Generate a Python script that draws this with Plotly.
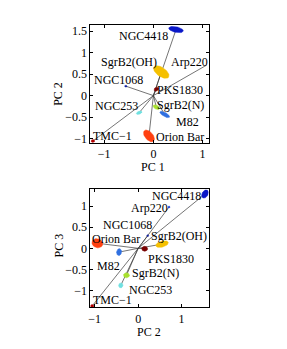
import numpy as np
import plotly.graph_objects as go

# ---- data ----
sources = ["NGC4418", "Arp220", "NGC1068", "SgrB2(OH)", "PKS1830",
           "SgrB2(N)", "M82", "NGC253", "Orion Bar", "TMC-1"]
pc1 = [0.46, 1.08, -0.56, 0.16, 0.06, 0.06, 0.23, -0.29, -0.09, -1.23]
pc2 = [1.54, 0.71, 0.22, 0.55, 0.15, -0.27, -0.44, -0.40, -0.94, -1.06]
pc3 = [1.29, 0.98, 0.30, 0.10, -0.01, -0.64, -0.09, -0.88, 0.12, -1.37]
colors = ["#0a18c8", "#1a3ad8", "#1020a0", "#f5c000", "#780000",
          "#a8e030", "#3070e0", "#70e0e0", "#ff4010", "#b00000"]

# uncertainty ellipse shapes (pixel semi-axes and angle) per panel
ell_top = [(7.5, 2.8, -12), (0, 0, 0), (1.2, 1.0, 0), (9, 4.5, -35), (2.5, 1.8, 30),
           (3.5, 2.0, -30), (5.5, 2.0, -30), (3.0, 1.5, 20), (7.0, 4.0, -50), (1.8, 1.5, 0)]
ell_bot = [(4.5, 3.0, 60), (1.0, 1.0, 0), (1.0, 1.0, 0), (6.5, 3.0, 15), (3.0, 2.5, 0),
           (3.0, 2.5, 0), (3.5, 2.5, 80), (2.5, 2.2, 80), (5.5, 4.5, -20), (1.8, 1.5, 0)]

# label positions (data coords) per panel
lab_top = {"NGC4418": (-0.21, 1.40), "SgrB2(OH)": (-0.49, 0.79), "Arp220": (0.73, 0.79),
           "NGC1068": (-0.71, 0.37), "PKS1830": (0.55, 0.14), "SgrB2(N)": (0.55, -0.21),
           "NGC253": (-0.74, -0.24), "M82": (0.69, -0.61), "TMC-1": (-0.83, -0.95),
           "Orion Bar": (0.55, -0.97)}
lab_bot = {"NGC4418": (0.88, 1.25), "Arp220": (0.25, 0.95), "NGC1068": (-0.24, 0.55),
           "Orion Bar": (-0.51, 0.23), "SgrB2(OH)": (0.94, 0.29), "PKS1830": (0.75, -0.26),
           "M82": (-0.69, -0.42), "SgrB2(N)": (0.41, -0.58), "NGC253": (0.29, -0.98),
           "TMC-1": (-0.60, -1.23)}

# page has an 8px body margin: work in page pixels, convert to paper
OFF = 8
W, H = 271, 333


def px(P):
    return (P - OFF) / W


def py(P):
    return 1 - (P - OFF) / H


XD = [px(89), px(208)]
TOP_YD = [py(144), py(25)]
BOT_YD = [py(310), py(191)]
top_xr, top_yr = [-1.28, 1.12], [-1.1, 1.65]
bot_xr, bot_yr = [-1.1, 1.62], [-1.4, 1.4]

FONT = "Liberation Serif"
fig = go.Figure()


def add_panel(xs, ys, ells, labels, xa, ya, xr, yr):
    kx = 119 / (xr[1] - xr[0])
    ky = 119 / (yr[1] - yr[0])
    for x, y in zip(xs, ys):
        fig.add_trace(go.Scatter(x=[0, x], y=[0, y], mode="lines",
                                 line=dict(color="#3a3a3a", width=0.7),
                                 xaxis=xa, yaxis=ya, showlegend=False, hoverinfo="skip"))
    t = np.linspace(0, 2 * np.pi, 40)
    for x, y, (a, b, ang), c in zip(xs, ys, ells, colors):
        if a <= 0:
            continue
        th = np.deg2rad(ang)
        ex = x + (a * np.cos(th) * np.cos(t) - b * np.sin(th) * np.sin(t)) / kx
        ey = y + (a * np.sin(th) * np.cos(t) + b * np.cos(th) * np.sin(t)) / ky
        fig.add_trace(go.Scatter(x=ex, y=ey, mode="lines", fill="toself",
                                 fillcolor=c, line=dict(color=c, width=0.5),
                                 xaxis=xa, yaxis=ya, showlegend=False, hoverinfo="skip"))
    for name, (lx, ly) in labels.items():
        fig.add_annotation(x=lx, y=ly, xref=xa, yref=ya, text=name.replace("-", "−"),
                           showarrow=False, font=dict(family=FONT, size=12, color="black"),
                           xanchor="center", yanchor="middle")


add_panel(pc1, pc2, ell_top, lab_top, "x", "y", top_xr, top_yr)
add_panel(pc2, pc3, ell_bot, lab_bot, "x2", "y2", bot_xr, bot_yr)

axis_common = dict(showline=True, linecolor="black", linewidth=1, mirror="ticks",
                   ticks="inside", ticklen=3, tickcolor="black", showgrid=False,
                   zeroline=False, tickfont=dict(family=FONT, size=12, color="black"))

fig.update_layout(
    width=W, height=H, margin=dict(l=0, r=0, t=0, b=0),
    paper_bgcolor="white", plot_bgcolor="white",
    xaxis=dict(domain=XD, range=top_xr, tickvals=[-1, 0, 1], anchor="y", **axis_common),
    yaxis=dict(domain=TOP_YD, range=top_yr, tickvals=[-1, -0.5, 0, 0.5, 1, 1.5],
               anchor="x", **axis_common),
    xaxis2=dict(domain=XD, range=bot_xr, tickvals=[-1, 0, 1], anchor="y2", **axis_common),
    yaxis2=dict(domain=BOT_YD, range=bot_yr, tickvals=[-1, -0.5, 0, 0.5, 1],
                anchor="x2", **axis_common),
)

tf = dict(family=FONT, size=12, color="black")
fig.add_annotation(x=px(151.7), y=py(168.5), xref="paper", yref="paper", text="PC 1",
                   showarrow=False, font=tf, xanchor="center", yanchor="middle")
fig.add_annotation(x=px(57), y=py(95), xref="paper", yref="paper", text="PC 2",
                   showarrow=False, font=tf, textangle=-90, xanchor="center", yanchor="middle")
fig.add_annotation(x=px(148.3), y=py(334.5), xref="paper", yref="paper", text="PC 2",
                   showarrow=False, font=tf, xanchor="center", yanchor="middle")
fig.add_annotation(x=px(57), y=py(248), xref="paper", yref="paper", text="PC 3",
                   showarrow=False, font=tf, textangle=-90, xanchor="center", yanchor="middle")

fig.write_html("out.html")
